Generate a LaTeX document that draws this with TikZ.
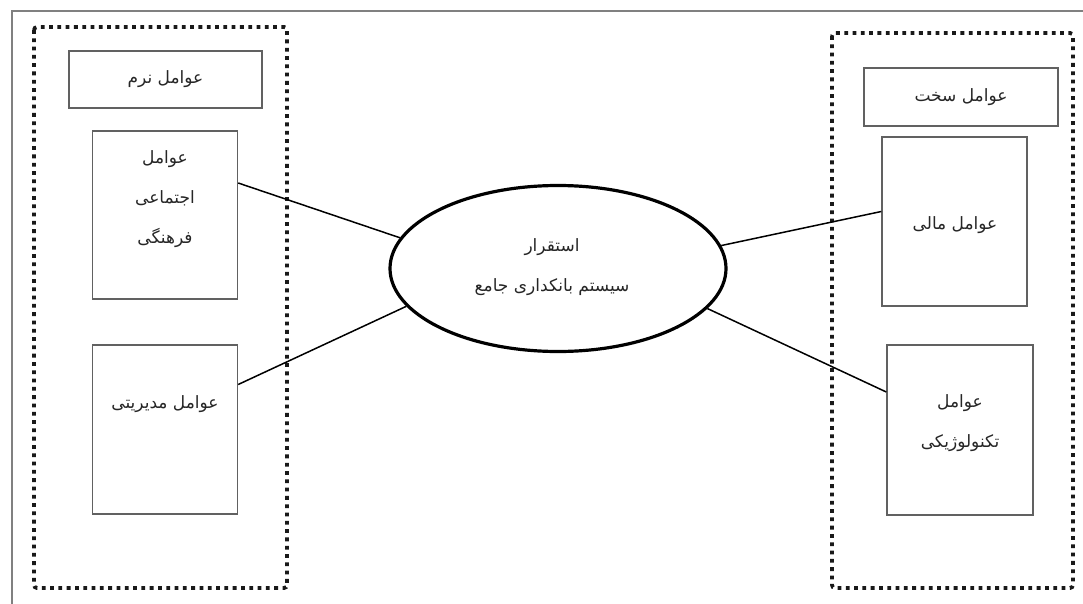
\documentclass[tikz,border=0pt]{standalone}
\usepackage{fontspec}
\usetikzlibrary{shapes.geometric}
\newfontfamily\arabicfont[Script=Arabic]{DejaVu Sans}
\TeXXeTstate=1
% one right-to-left Persian line
\newcommand{\fa}[1]{{\arabicfont\beginR #1\endR}}

\begin{document}
\begin{tikzpicture}[x=1pt,y=-1pt,
  framebox/.style={draw=black!50, line width=1.3pt},
  group/.style={draw=black!90, line width=3.8pt, dash pattern=on 3.8pt off 4.5pt, rounded corners=3pt},
  factor/.style={draw=black!62, line width=1.4pt, rectangle, inner sep=0pt,
    font=\fontsize{17}{40}\selectfont, text=black!85},
  lbl/.style={font=\fontsize{17}{40}\selectfont, align=center, text=black!85, inner sep=0pt},
  link/.style={draw=black, line width=1.5pt}]
\useasboundingbox (0,0) rectangle (1083,604);

% page frame
\draw[framebox] (12,604) -- (12,11) -- (1083,11);

% dotted groups
\draw[group] (34,27) rectangle (287,588);
\draw[group] (832,33) rectangle (1073,588);

% soft factors
\node[factor, minimum width=193, minimum height=57] (soft) at (165.5,79.5) {\fa{عوامل نرم}};
\node[factor, minimum width=145, minimum height=168] (social) at (165,215) {};
\node[lbl] (social-t) at (165,199) {\fa{عوامل}\\\fa{اجتماعی}\\\fa{فرهنگی}};
\node[factor, minimum width=145, minimum height=169] (mgmt) at (165,429.5) {};
\node[lbl] (mgmt-t) at (165,404) {\fa{عوامل مدیریتی}};

% central goal
\node[ellipse, draw=black, line width=3.2pt, minimum width=336, minimum height=166, inner sep=0pt] (core) at (558,268.5) {};
\node[lbl] (core-t) at (552,267) {\fa{استقرار}\\\fa{سیستم بانکداری جامع}};

% hard factors
\node[factor, minimum width=194, minimum height=58] (hard) at (961,97) {\fa{عوامل سخت}};
\node[factor, minimum width=145, minimum height=169] (fin) at (954.5,221.5) {};
\node[lbl] (fin-t) at (955,225) {\fa{عوامل مالی}};
\node[factor, minimum width=146, minimum height=170] (tech) at (960,430) {};
\node[lbl] (tech-t) at (960,423) {\fa{عوامل}\\\fa{تکنولوژیکی}};

% links
\draw[link] ([yshift=32pt]social.east) -- (core.169);
\draw[link] ([yshift=45pt]mgmt.east) -- (core.194.6);
\draw[link] (core.8) -- ([yshift=10pt]fin.west);
\draw[link] (core.-15) -- ([yshift=38pt]tech.west);
\end{tikzpicture}
\end{document}
